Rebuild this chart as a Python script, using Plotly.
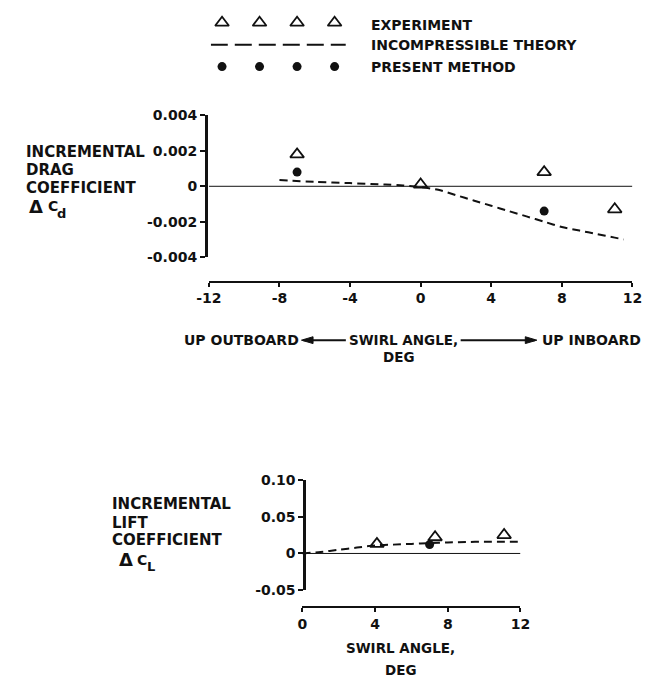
import plotly.graph_objects as go

# ---- Incremental drag coefficient vs swirl angle ----
drag_exp_x = [-7, 0, 7, 11]
drag_exp_y = [0.0018, 0.0001, 0.0008, -0.0013]
drag_pm_x = [-7, 7]
drag_pm_y = [0.0008, -0.0014]
drag_th_x = [-8, -6, -4, -2, -1, 0, 1, 2, 3, 4, 5, 6, 7, 8, 9, 10, 11, 11.5]
drag_th_y = [0.00035, 0.00025, 0.00018, 0.0001, 0.00005, -0.00005, -0.0002,
             -0.0005, -0.0008, -0.0011, -0.0014, -0.0017, -0.002, -0.0023,
             -0.0025, -0.0027, -0.0029, -0.003]
drag_xticks = [-12, -8, -4, 0, 4, 8, 12]
drag_xticktext = ["-12", "-8", "-4", "0", "4", "8", "12"]
drag_yticks = [-0.004, -0.002, 0, 0.002, 0.004]
drag_yticktext = ["-0.004", "-0.002", "0", "0.002", "0.004"]

# ---- Incremental lift coefficient vs swirl angle ----
lift_exp_x = [4.1, 7.3, 11.1]
lift_exp_y = [0.013, 0.022, 0.025]
lift_pm_x = [7.0]
lift_pm_y = [0.012]
lift_th_x = [0, 1, 2, 3, 4, 5, 6, 7, 8, 9, 10, 11, 12]
lift_th_y = [0, 0.002, 0.005, 0.008, 0.011, 0.012, 0.013, 0.014, 0.015,
             0.0155, 0.016, 0.016, 0.016]
lift_xticks = [0, 4, 8, 12]
lift_xticktext = ["0", "4", "8", "12"]
lift_yticks = [-0.05, 0, 0.05, 0.10]
lift_yticktext = ["-0.05", "0", "0.05", "0.10"]

# legend key: four sample symbols per row
legend_slots = [0, 1, 2, 3]
legend_labels = ["EXPERIMENT", "INCOMPRESSIBLE THEORY", "PRESENT METHOD"]

W, H = 653, 694
FONT = "DejaVu Sans"
BLACK = "#111111"


def px(xp):
    return xp / W


def py(yp):
    return 1 - yp / H


tri = dict(symbol="triangle-up-open", size=12, color=BLACK, line=dict(width=1.8, color=BLACK))
dot = dict(symbol="circle", size=9, color=BLACK)
dash_line = dict(color=BLACK, width=2, dash="8px,5px", shape="spline", smoothing=0.8)

fig = go.Figure()

# drag panel
fig.add_trace(go.Scatter(x=drag_th_x, y=drag_th_y, mode="lines", line=dash_line,
                         xaxis="x", yaxis="y", showlegend=False, hoverinfo="skip"))
fig.add_trace(go.Scatter(x=drag_exp_x, y=drag_exp_y, mode="markers", marker=tri,
                         xaxis="x", yaxis="y", showlegend=False))
fig.add_trace(go.Scatter(x=drag_pm_x, y=drag_pm_y, mode="markers", marker=dot,
                         xaxis="x", yaxis="y", showlegend=False))

# lift panel
fig.add_trace(go.Scatter(x=lift_th_x, y=lift_th_y, mode="lines", line=dash_line,
                         xaxis="x2", yaxis="y2", showlegend=False, hoverinfo="skip"))
fig.add_trace(go.Scatter(x=lift_exp_x, y=lift_exp_y, mode="markers", marker=tri,
                         xaxis="x2", yaxis="y2", showlegend=False))
fig.add_trace(go.Scatter(x=lift_pm_x, y=lift_pm_y, mode="markers", marker=dot,
                         xaxis="x2", yaxis="y2", showlegend=False))

# legend key rows (row 2: triangles, row 1: dashed line, row 0: dots)
fig.add_trace(go.Scatter(x=legend_slots, y=[2] * 4, mode="markers", marker=tri,
                         xaxis="x3", yaxis="y3", showlegend=False, hoverinfo="skip"))
fig.add_trace(go.Scatter(x=[-0.3, 3.3], y=[1, 1], mode="lines",
                         line=dict(color=BLACK, width=2, dash="17px,7px"),
                         xaxis="x3", yaxis="y3", showlegend=False, hoverinfo="skip"))
fig.add_trace(go.Scatter(x=legend_slots, y=[0] * 4, mode="markers", marker=dot,
                         xaxis="x3", yaxis="y3", showlegend=False, hoverinfo="skip"))

tickfont = dict(family=FONT, size=14, color=BLACK, weight="bold")
common_x = dict(showgrid=False, zeroline=False, showline=True, linecolor=BLACK,
                linewidth=2, ticks="outside", ticklen=4, tickwidth=2,
                tickcolor=BLACK, tickfont=tickfont, anchor="free", fixedrange=True)
common_y = dict(showgrid=False, zeroline=False, showline=True, linecolor=BLACK,
                linewidth=3, ticks="outside", ticklen=5, tickwidth=2,
                tickcolor=BLACK, tickfont=tickfont, anchor="free", fixedrange=True)

fig.update_layout(
    width=W, height=H,
    margin=dict(l=0, r=0, t=0, b=0),
    paper_bgcolor="white", plot_bgcolor="rgba(0,0,0,0)",
    xaxis=dict(common_x, domain=[px(203), px(642)], range=[-12, 12],
               tickvals=drag_xticks, ticktext=drag_xticktext, position=py(280)),
    yaxis=dict(common_y, domain=[py(255), py(110)], range=[-0.004, 0.004],
               tickvals=drag_yticks, ticktext=drag_yticktext, position=px(200)),
    xaxis2=dict(common_x, domain=[px(300), px(526)], range=[0, 12],
                tickvals=lift_xticks, ticktext=lift_xticktext, position=py(613)),
    yaxis2=dict(common_y, domain=[py(596), py(483)], range=[-0.05, 0.10],
                tickvals=lift_yticks, ticktext=lift_yticktext, position=px(302)),
    xaxis3=dict(domain=[px(205), px(345)], range=[-0.3, 3.3], visible=False,
                anchor="y3", fixedrange=True),
    yaxis3=dict(domain=[py(75), py(0)], range=[-0.67, 2.67], visible=False,
                anchor="x3", fixedrange=True),
)

# reference zero lines
fig.add_shape(type="line", xref="x", yref="y", x0=-12, x1=12, y0=0, y1=0,
              line=dict(color=BLACK, width=1))
fig.add_shape(type="line", xref="x2", yref="y2", x0=0, x1=12, y0=0, y1=0,
              line=dict(color=BLACK, width=1))


def text(x, y, s, anchor="left", size=14):
    fig.add_annotation(x=px(x), y=py(y), xref="paper", yref="paper",
                       text="<b>" + s + "</b>", showarrow=False, xanchor=anchor,
                       yanchor="middle", align=anchor if anchor != "center" else "center",
                       borderpad=0,
                       font=dict(family=FONT, size=size, color=BLACK))


def delta_symbol(x, y, sub):
    # "Δ C" with a lowered subscript letter, each piece sized on its own
    text(x, y, "Δ", size=18)
    text(x + 19, y, "C", size=14)
    text(x + 29, y + 7, sub, size=13)


def arrow(x_tail, x_head, y):
    # shaft plus a filled head, in page pixels
    fig.add_shape(type="line", xref="paper", yref="paper",
                  x0=px(x_tail), x1=px(x_head), y0=py(y), y1=py(y),
                  line=dict(color=BLACK, width=2))
    d = 10 if x_head > x_tail else -10
    path = "M {} {} L {} {} L {} {} Z".format(
        px(x_head + d * 0.2), py(y), px(x_head - d), py(y - 3.5),
        px(x_head - d), py(y + 3.5))
    fig.add_shape(type="path", xref="paper", yref="paper", path=path,
                  fillcolor=BLACK, line=dict(color=BLACK, width=1))


# legend labels
for row_y, s in zip([17, 38, 60], legend_labels):
    text(370, row_y, s)

# drag y label
text(12, 147, "INCREMENTAL", size=15)
text(12, 166, "DRAG", size=15)
text(12, 184, "COEFFICIENT", size=15)
delta_symbol(16, 203, "d")

# drag x-axis title with direction arrows
text(297, 340, "UP OUTBOARD", anchor="right")
text(405, 340, "SWIRL ANGLE,", anchor="center", size=13.5)
text(400, 357, "DEG", anchor="center", size=13.5)
text(547, 340, "UP INBOARD")
arrow(345, 301, 340)
arrow(464, 541, 340)

# lift y label
text(102, 508, "INCREMENTAL", size=15)
text(102, 527, "LIFT", size=15)
text(102, 545, "COEFFICIENT", size=15)
delta_symbol(109, 565, "L")

# lift x-axis title
text(402, 655, "SWIRL ANGLE,", anchor="center", size=13.5)
text(402, 678, "DEG", anchor="center", size=13.5)

fig.write_html("out.html")
